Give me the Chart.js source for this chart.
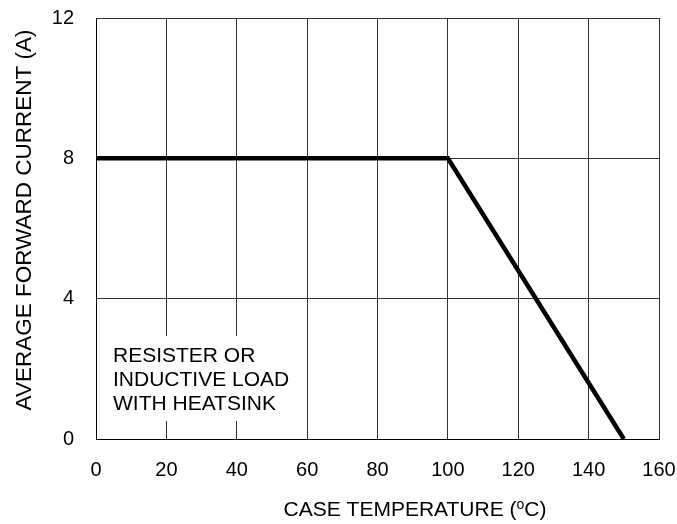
<!DOCTYPE html>
<html>
<head>
<meta charset="utf-8">
<script src="https://cdn.jsdelivr.net/npm/chart.js@4.4.1/dist/chart.umd.min.js"></script>
<style>
  html, body { margin: 0; padding: 0; background: #fff; }
  #wrap { width: 677px; height: 524px; }
</style>
</head>
<body>
<div id="wrap"><canvas id="derating"></canvas></div>
<script>
const caseTemp = [0, 100, 150];
const forwardCurrent = [8, 8, 0];
const xTicks = [0, 20, 40, 60, 80, 100, 120, 140, 160];
const yTicks = [0, 4, 8, 12];
const noteLines = ['RESISTER OR', 'INDUCTIVE LOAD', 'WITH HEATSINK'];

const FONT = '"Liberation Sans", Arial, Helvetica, sans-serif';

const labelsPlugin = {
    id: 'labels',
    beforeDatasetsDraw(chart) {
        const { ctx, chartArea: a } = chart;
        ctx.save();
        // white box behind the note
        ctx.fillStyle = '#fff';
        ctx.fillRect(a.left + 4, a.bottom - 103, 200, 85);
        ctx.fillStyle = '#000';
        ctx.font = '21px ' + FONT;
        ctx.textBaseline = 'alphabetic';
        ctx.textAlign = 'left';
        noteLines.forEach((t, i) => {
            ctx.fillText(t, a.left + 17, a.bottom - 77 + i * 24);
        });
        ctx.restore();
    },
    afterDraw(chart) {
        const { ctx, chartArea: a } = chart;
        ctx.save();
        ctx.fillStyle = '#000';
        ctx.textBaseline = 'alphabetic';
        // x title with superscript o
        const big = '21px ' + FONT, small = '14px ' + FONT;
        const parts = [['CASE TEMPERATURE (', big, 0], ['o', small, -7], ['C)', big, 0]];
        let w = 0;
        parts.forEach(p => { ctx.font = p[1]; w += ctx.measureText(p[0]).width; });
        let x = 415 - w / 2;
        const y = a.bottom + 77;
        parts.forEach(p => {
            ctx.font = p[1];
            ctx.textAlign = 'left';
            ctx.fillText(p[0], x, y + p[2]);
            x += ctx.measureText(p[0]).width;
        });
        // y title
        ctx.translate(31, 220);
        ctx.rotate(-Math.PI / 2);
        ctx.font = '22.5px ' + FONT;
        ctx.textAlign = 'center';
        ctx.fillText('AVERAGE FORWARD CURRENT (A)', 0, 0);
        ctx.restore();
    }
};

new Chart(document.getElementById('derating'), {
    type: 'line',
    data: {
        datasets: [{
            data: caseTemp.map((t, i) => ({ x: t, y: forwardCurrent[i] })),
            borderColor: '#000',
            borderWidth: 4.5,
            pointRadius: 0,
            tension: 0,
            fill: false
        }]
    },
    options: {
        responsive: true,
        maintainAspectRatio: false,
        animation: false,
        layout: { padding: { top: 18, right: 18, left: 0, bottom: 0 } },
        plugins: { legend: { display: false }, tooltip: { enabled: false } },
        scales: {
            x: {
                type: 'linear',
                min: 0,
                max: 160,
                afterBuildTicks: s => { s.ticks = xTicks.map(v => ({ value: v })); },
                afterFit: s => { s.height = 85; s.paddingLeft = 0; s.paddingRight = 0; },
                grid: { color: '#333', lineWidth: 1, drawTicks: false },
                border: { color: '#000', width: 1 },
                ticks: { color: '#000', font: { family: FONT, size: 20 }, padding: 19, maxRotation: 0 }
            },
            y: {
                type: 'linear',
                min: 0,
                max: 12,
                afterBuildTicks: s => { s.ticks = yTicks.map(v => ({ value: v })); },
                afterFit: s => { s.width = 96; s.paddingTop = 0; s.paddingBottom = 0; },
                grid: { color: '#333', lineWidth: 1, drawTicks: false },
                border: { color: '#000', width: 1 },
                ticks: { color: '#000', font: { family: FONT, size: 20 }, padding: 22 }
            }
        }
    },
    plugins: [labelsPlugin]
});
</script>
</body>
</html>
